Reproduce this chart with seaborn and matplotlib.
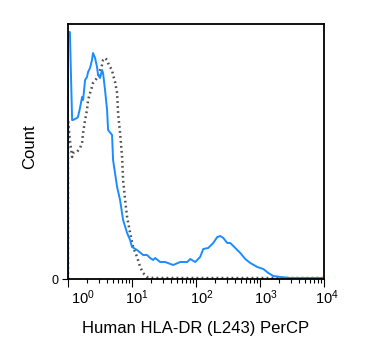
import matplotlib
matplotlib.use('Agg')
import matplotlib.pyplot as plt
import matplotlib.transforms as mtransforms
from matplotlib.ticker import LogLocator, NullFormatter
import pandas as pd
import seaborn as sns

# Stained sample (blue, solid) - fluorescence vs count
stain_x = [1.0, 1.0, 1.07, 1.16, 1.20, 1.38, 1.43, 1.54, 1.66, 1.72, 1.85, 1.98,
           2.06, 2.21, 2.37, 2.46, 2.65, 2.84, 2.95, 3.17, 3.40, 3.53, 3.79, 4.08,
           4.23, 4.88, 5.06, 5.85, 6.51, 7.26, 8.38, 9.34, 10.0, 12.0, 14.9, 17.2,
           19.2, 21.4, 23.0, 27.5, 33.0, 44.0, 56.6, 72.8, 81.2, 97.1, 116, 130,
           155, 186, 215, 239, 267, 308, 343, 411, 492, 589, 705, 907, 1127, 1349,
           1614, 2080, 2980, 4270, 10000]
stain_y = [0, 247, 247, 159, 159, 161, 162, 171, 182, 179, 199, 202,
           207, 211, 219, 226, 221, 212, 204, 201, 209, 206, 189, 169,
           149, 144, 119, 92, 79, 59, 46, 39, 32, 29, 24, 24,
           21, 19, 21, 17, 17, 14, 17, 17, 20, 17, 22, 30,
           31, 36, 42, 43, 41, 36, 36, 31, 26, 20, 16, 12, 10, 6,
           3, 2, 1, 1, 1]

# Isotype control (grey, dotted)
ctrl_x = [1.0, 1.0, 1.07, 1.16, 1.20, 1.38, 1.54, 1.66, 1.72, 1.85, 1.98, 2.06,
          2.21, 2.37, 2.46, 2.84, 3.17, 3.40, 3.53, 3.79, 4.08, 4.23, 4.54, 4.88,
          5.06, 5.44, 5.85, 6.06, 6.51, 7.00, 7.26, 7.80, 8.38, 9.34, 10.4, 12.0,
          13.4, 14.9, 17.2, 21.4, 10000]
ctrl_y = [0, 159, 139, 122, 126, 127, 131, 136, 146, 159, 169, 179,
          186, 192, 196, 201, 209, 214, 219, 221, 219, 216, 212, 209,
          204, 197, 186, 166, 146, 122, 99, 79, 62, 46, 32, 22,
          12, 6, 2, 1, 1]

x_ticks = [1, 10, 100, 1000, 10000]
x_tick_labels = [r'$\mathregular{10^{%d}}$' % i for i in range(5)]

sns.set_style('white')
plt.rcParams['font.family'] = ['Liberation Sans', 'DejaVu Sans']
plt.rcParams['mathtext.fontset'] = 'custom'
plt.rcParams['mathtext.rm'] = 'Liberation Sans'
plt.rcParams['text.color'] = 'black'
plt.rcParams['axes.labelcolor'] = 'black'
plt.rcParams['xtick.color'] = 'black'
plt.rcParams['ytick.color'] = 'black'

stain = pd.DataFrame({'x': stain_x, 'y': stain_y})
ctrl = pd.DataFrame({'x': ctrl_x, 'y': ctrl_y})

fig = plt.figure(figsize=(3.75, 3.6), dpi=100)
ax = fig.add_axes([68 / 375, 81 / 360, 256 / 375, 255 / 360])

sns.lineplot(data=ctrl, x='x', y='y', sort=False, estimator=None, ax=ax,
             color='#505050', lw=1.8, linestyle=(0, (0.7, 1.3)))
sns.lineplot(data=stain, x='x', y='y', sort=False, estimator=None, ax=ax,
             color='#1a8cff', lw=1.4)

ax.set_xscale('log')
ax.set_xlim(1, 10000)
ax.set_ylim(0, 255)

for s in ax.spines.values():
    s.set_visible(True)
    s.set_color('black')
    s.set_linewidth(1.3)

ax.set_xticks(x_ticks, labels=[''] * len(x_ticks))
ax.xaxis.set_minor_locator(LogLocator(base=10, subs=range(2, 10), numticks=20))
ax.xaxis.set_minor_formatter(NullFormatter())
ax.tick_params(axis='x', which='major', direction='out', length=5.5, width=0.8,
               color='black', bottom=True)
ax.tick_params(axis='x', which='minor', direction='out', length=3, width=0.8,
               color='black', bottom=True)
ax.set_yticks([0], labels=['0'])
ax.tick_params(axis='y', direction='out', length=4.5, width=0.8, color='black',
               left=True, labelsize=9, pad=2, labelcolor='black')

# exponent labels, shifted right like FlowJo output
label_shift_px = [15, 5, 6, 6, 3]
trans = mtransforms.blended_transform_factory(ax.transData, ax.transAxes)
for v, lab, dx in zip(x_ticks, x_tick_labels, label_shift_px):
    off = mtransforms.ScaledTranslation(dx / 100, 0, fig.dpi_scale_trans)
    ax.text(v, -0.035, lab, transform=trans + off, ha='center', va='top',
            fontsize=10.5, color='black', clip_on=False)

ax.set_xlabel('Human HLA-DR (L243) PerCP', fontsize=12, color='black')
ax.xaxis.set_label_coords(0.5, -0.196)
ax.xaxis.label.set_va('center')
ax.set_ylabel('Count', fontsize=12, color='black')
ax.yaxis.set_label_coords(-0.148, 0.52)
ax.yaxis.label.set_va('center')

fig.savefig('out.png', dpi=100)
